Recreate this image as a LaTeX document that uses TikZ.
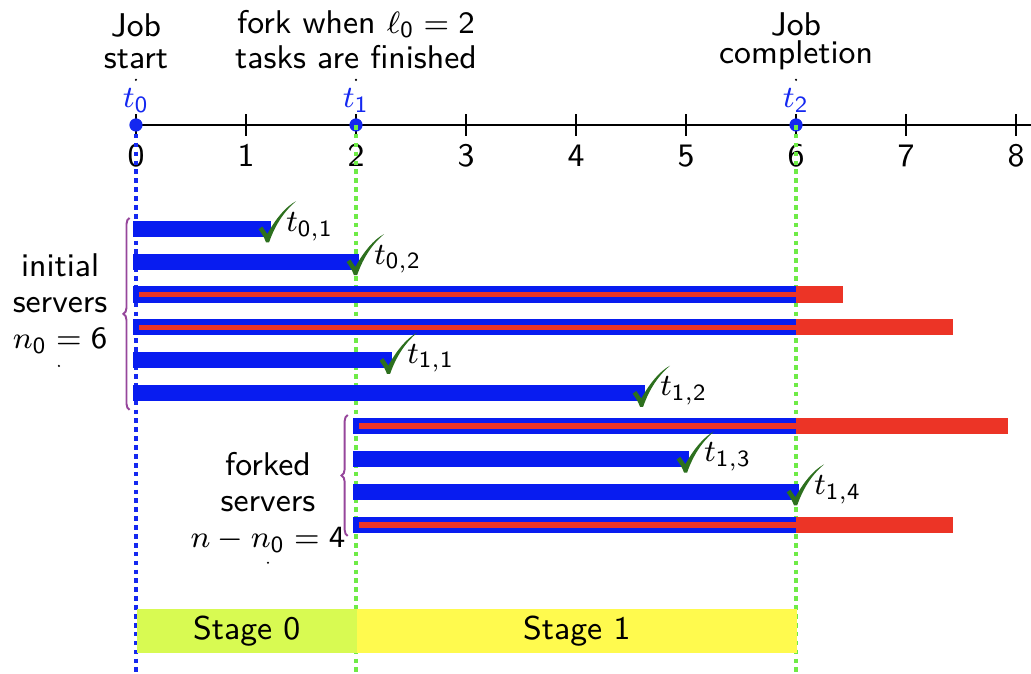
\documentclass[tikz,border=0pt]{standalone}
\usetikzlibrary{decorations.pathreplacing}
\definecolor{barblue}{RGB}{8,28,240}
\definecolor{barred}{RGB}{236,52,38}
\definecolor{markblue}{RGB}{20,40,240}
\definecolor{forkgreen}{RGB}{110,235,70}
\definecolor{checkgreen}{RGB}{45,112,30}
\definecolor{bracepurple}{RGB}{150,70,155}
\definecolor{stagezero}{RGB}{216,250,82}
\definecolor{stageone}{RGB}{255,250,78}
% sans digits inside formulas
\newcommand{\dg}[1]{\mathsf{#1}}
% a task that finished: bar from #1 to #2 at height #3
\newcommand{\donebar}[3]{%
  \fill[barblue] ({#1-0.03},{#3-0.073}) rectangle ({#2+0.03},{#3+0.073});}
% a task still running at completion: blue with red core up to 6, red tail after
\newcommand{\stalledbar}[3]{%
  \fill[barblue] ({#1-0.03},{#3-0.073}) rectangle (6,{#3+0.073});
  \fill[barred] ({#1+0.03},{#3-0.026}) rectangle (6,{#3+0.026});
  \fill[barred] (6,{#3-0.073}) rectangle ({#2+0.03},{#3+0.073});}
% check mark and finishing-time label at the end #1 of the bar at height #2
\newcommand{\finish}[4]{%
  \pic at ({#1-0.01},{#2-0.12}) {donemark};
  \node[tasklabel] (#3) at ({#1+0.157},{#2-0.025}) {#4};}
\begin{document}
\begin{tikzpicture}[
  txt/.style={font=\sffamily\fontsize{8.5}{9}\selectfont, inner sep=0pt},
  ticklabel/.style={txt, anchor=base},
  timelabel/.style={txt, anchor=base, text=markblue},
  tasklabel/.style={txt, anchor=base west},
  axisline/.style={line width=0.55pt, black},
  startline/.style={markblue, line width=1.1pt, dash pattern=on 1.2pt off 1.1pt},
  forkline/.style={forkgreen, line width=1.1pt, dash pattern=on 1.2pt off 1.1pt},
  bracestyle/.style={draw=bracepurple, line width=0.5pt, decorate,
    decoration={brace, amplitude=1.6pt}},
  stagebox/.style={txt, minimum height=0.4cm, anchor=west},
  tinydot/.style={circle, fill=black, inner sep=0pt, minimum size=0.6pt},
  timedot/.style={circle, fill=markblue, inner sep=0pt, minimum size=0.12cm},
  donemark/.pic={
    \fill[checkgreen] (-0.075,0.115) -- (-0.042,0.14)
      .. controls (-0.02,0.115) .. (0.004,0.072)
      .. controls (0.08,0.21) and (0.17,0.32) .. (0.265,0.37)
      .. controls (0.17,0.29) and (0.08,0.17) .. (0.02,-0.004)
      -- (-0.008,-0.004) .. controls (-0.03,0.05) .. cycle;
  }
]
\useasboundingbox (-1.236,-4.982) rectangle (8.136,1.136);

% time axis
\draw[axisline] (0,0) -- (8.14,0);
\foreach \i in {0,...,8} {
  \draw[axisline] (\i,-0.1) -- (\i,0.1);
  \node[ticklabel] (tick\i) at (\i,-0.382) {\i};
}

% event times
\node[timedot] (d0) at (0,0) {};
\node[timedot] (d1) at (2,0) {};
\node[timedot] (d2) at (6,0) {};
\node[timelabel] (t0) at (0,0.155) {$t_{\dg{0}}$};
\node[timelabel] (t1) at (2,0.155) {$t_{\dg{1}}$};
\node[timelabel] (t2) at (6,0.155) {$t_{\dg{2}}$};

% event captions
\node[txt, align=center, anchor=north, font=\sffamily\fontsize{8.5}{8.3}\selectfont]
  (jobstart) at (0,1.016) {Job\\start};
\node[txt, align=center, anchor=north, font=\sffamily\fontsize{8.5}{9.05}\selectfont]
  (forkpoint) at (2,1.05) {fork when $\ell_{\dg{0}} = \dg{2}$\\tasks are finished};
\node[txt, align=center, anchor=north, font=\sffamily\fontsize{8.5}{7.2}\selectfont]
  (jobend) at (6,1.03) {Job\\completion};
\node[tinydot] (p0) at (0,0.41) {};
\node[tinydot] (p1) at (2,0.41) {};
\node[tinydot] (p2) at (6,0.41) {};

% guide lines at t0, t1, t2
\draw[startline] (d0.center) -- (0,-4.982);
\draw[forkline] (d1.center) -- (2,-4.982);
\draw[forkline] (d2.center) -- (6,-4.982);

% initial servers
\donebar{0}{1.2}{-0.943}
\donebar{0}{2}{-1.242}
\stalledbar{0}{6.4}{-1.541}
\stalledbar{0}{7.4}{-1.840}
\donebar{0}{2.3}{-2.139}
\donebar{0}{4.6}{-2.438}
% forked servers
\stalledbar{2}{7.9}{-2.737}
\donebar{2}{5}{-3.036}
\donebar{2}{6}{-3.335}
\stalledbar{2}{7.4}{-3.634}

\finish{1.2}{-0.943}{f01}{$t_{\dg{0},\dg{1}}$}
\finish{2}{-1.242}{f02}{$t_{\dg{0},\dg{2}}$}
\finish{2.3}{-2.139}{f11}{$t_{\dg{1},\dg{1}}$}
\finish{4.6}{-2.438}{f12}{$t_{\dg{1},\dg{2}}$}
\finish{5}{-3.036}{f13}{$t_{\dg{1},\dg{3}}$}
\finish{6}{-3.335}{f14}{$t_{\dg{1},\dg{4}}$}

% server groups
\coordinate (initbot) at (-0.058,-2.59);
\coordinate (inittop) at (-0.058,-0.845);
\draw[bracestyle] (initbot) -- (inittop);
\node[txt, align=center, anchor=north, font=\sffamily\fontsize{8.5}{9.3}\selectfont]
  (initial) at (-0.69,-1.166) {initial\\servers\\$n_{\dg{0}} = \dg{6}$};
\node[tinydot] (p3) at (-0.70,-2.19) {};

\coordinate (forkbot) at (1.925,-3.736);
\coordinate (forktop) at (1.925,-2.636);
\draw[bracestyle] (forkbot) -- (forktop);
\node[txt, align=center, anchor=north, font=\sffamily\fontsize{8.5}{9.4}\selectfont]
  (forked) at (1.2,-2.966) {forked\\servers\\$n - n_{\dg{0}} = \dg{4}$};
\node[tinydot] (p4) at (1.2,-3.98) {};

% stages
\node[stagebox, fill=stagezero, minimum width=2cm] (stage0) at (0,-4.6) {Stage 0};
\node[stagebox, fill=stageone, minimum width=4cm] (stage1) at (2,-4.6) {Stage 1};
\end{tikzpicture}
\end{document}
